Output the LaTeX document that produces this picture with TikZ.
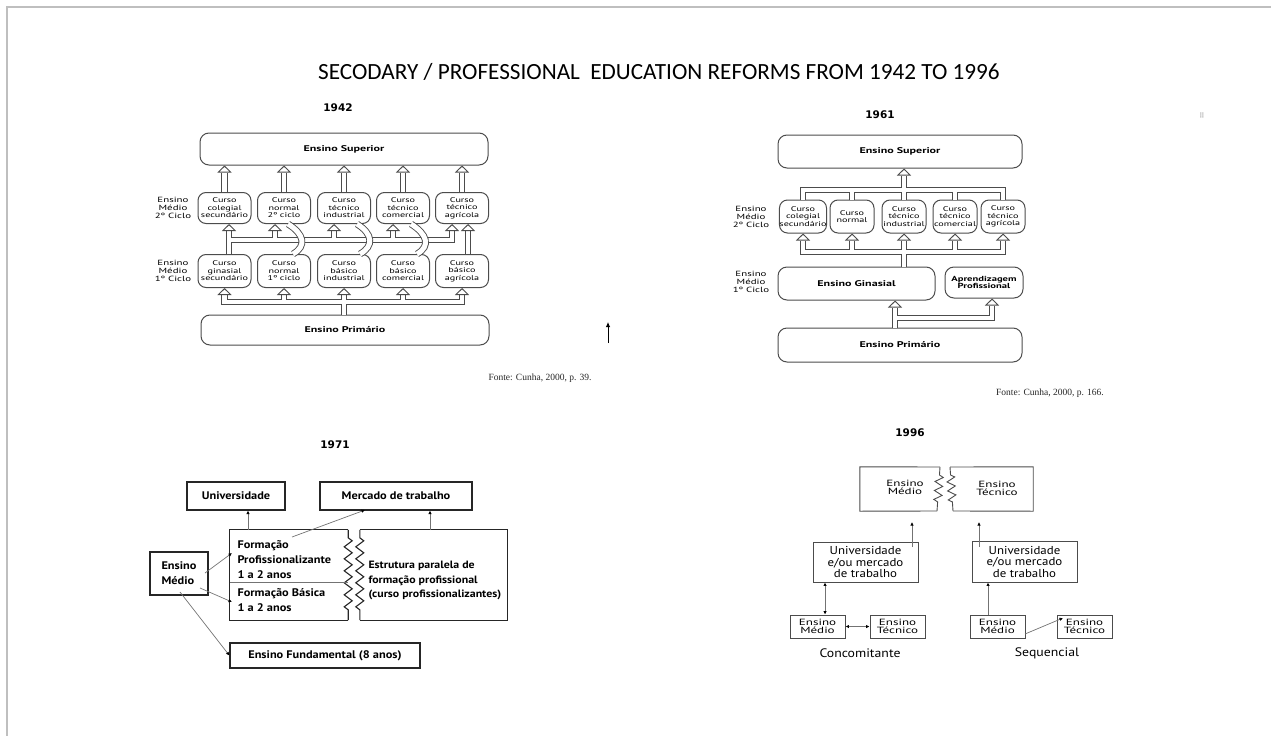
\documentclass[tikz,border=0pt]{standalone}
\usepackage{fontspec}
\setmainfont{PT Sans}
\newfontfamily\titlefont{Carlito}
\newfontfamily\yearfont{DejaVu Sans}
\newfontfamily\srcfont{Liberation Serif}
\newfontfamily\widefont[FakeStretch=1.45]{PT Sans}
\newfontfamily\midfont[FakeStretch=1.12]{PT Sans}
\usepackage{tikz}
\usetikzlibrary{arrows.meta,positioning,calc,decorations.pathmorphing}

\begin{document}
\begin{tikzpicture}[
  x=1pt, y=-1pt,
  oldbox/.style ={draw=black!70, line width=1pt, rounded corners=9pt,
                  minimum width=288pt, minimum height=32pt, inner sep=0pt,
                  font=\widefont\bfseries\fontsize{8.3}{8.8}\selectfont},
  curso/.style  ={draw=black!70, line width=1pt, rounded corners=8pt,
                  minimum width=53pt, minimum height=31pt, inner sep=0pt,
                  align=center, font=\widefont\fontsize{7}{7.5}\selectfont},
  tier/.style   ={align=center, font=\widefont\fontsize{7.5}{8.3}\selectfont},
  hollow/.style ={draw=black!70, line width=0.9pt, double=white,
                  double distance=4.5pt, line join=miter},
  head/.style   ={draw=white, line width=0.9pt,
                  -{Triangle[color=black!70, fill=white, length=7pt, width=14pt]}},
  band/.style   ={draw=black!70, line width=0.9pt, double=white,
                  double distance=5pt},
  newbox/.style ={draw=black!85, line width=1.2pt, inner sep=0pt,
                  font=\midfont\bfseries\fontsize{11}{15}\selectfont},
  txt71/.style  ={align=left, font=\midfont\bfseries\fontsize{11}{15}\selectfont},
  thin/.style   ={draw=black!55, line width=0.7pt,
                  -{Latex[length=3.5pt, width=3.5pt, black]}},
  jag/.style    ={draw=black!85, line width=1.1pt, decorate,
                  decoration={zigzag, segment length=12pt, amplitude=4pt,
                              pre length=8pt, post length=6pt}},
  box96/.style  ={draw=black!70, line width=0.9pt, inner sep=0pt, align=center,
                  font=\midfont\fontsize{11.5}{11.5}\selectfont},
  small96/.style={box96, minimum width=55pt, minimum height=23pt,
                  font=\widefont\fontsize{9}{8.2}\selectfont},
  cap96/.style  ={font=\midfont\fontsize{12.3}{14}\selectfont},
  year/.style   ={font=\yearfont\bfseries\fontsize{10.5}{12}\selectfont},
  fonte/.style  ={font=\srcfont\fontsize{9.5}{11}\selectfont, text=black!85},
]
\useasboundingbox (0,0) rectangle (1271,736);

% ---------------- page frame and title --------------------------------------
\coordinate (fTL) at (7,7);
\coordinate (fTR) at (1271,7);
\coordinate (fBL) at (7,736);
\draw[black!25, line width=1.2pt] (fTR) -- (fTL) -- (fBL);
\node[text=black!45, font=\yearfont\fontsize{7}{7}\selectfont] (dots) at (1202,116) {⠿};

\node[font=\titlefont\fontsize{23.2}{26}\selectfont] (title) at (659,72)
  {SECODARY / PROFESSIONAL\ \ EDUCATION REFORMS FROM 1942 TO 1996};

% ---------------- 1942 -----------------------------------------------------
\node[year] (y42) at (338,108) {1942};
\node[oldbox] (sup42) at (344,149) {Ensino Superior};

\node[curso] (t1) at (224.5,208) {Curso\\colegial\\secundário};
\node[curso] (t2) at (284,208)   {Curso\\normal\\2º ciclo};
\node[curso] (t3) at (344,208)   {Curso\\técnico\\industrial};
\node[curso] (t4) at (403,208)   {Curso\\técnico\\comercial};
\node[curso] (t5) at (462,208)   {Curso\\técnico\\agrícola};

\node[curso, minimum height=33pt] (b1) at (224.5,271) {Curso\\ginasial\\secundário};
\node[curso, minimum height=33pt] (b2) at (284,271)   {Curso\\normal\\1º ciclo};
\node[curso, minimum height=33pt] (b3) at (344,271)   {Curso\\básico\\industrial};
\node[curso, minimum height=33pt] (b4) at (403,271)   {Curso\\básico\\comercial};
\node[curso, minimum height=33pt] (b5) at (462,271)   {Curso\\básico\\agrícola};

\node[oldbox, minimum height=30pt] (pri42) at (345,330) {Ensino Primário};

\node[tier] (ciclo2) at (173,208) {Ensino\\Médio\\2º Ciclo};
\node[tier] (ciclo1) at (173,271) {Ensino\\Médio\\1º Ciclo};

% into Ensino Superior
\foreach \c in {t1,t2,t3,t4,t5} {
  \draw[hollow] (\c.north) -- ($(\c.north |- sup42.south)+(0,7)$);
  \draw[head] ($(\c.north |- sup42.south)+(0,9)$) -- (\c.north |- sup42.south);
}

% bus between the two cycles
\coordinate (m1) at (229,240);
\coordinate (m2) at (275,240);
\coordinate (m3) at (334,240);
\coordinate (m4) at (393,240);
\coordinate (m5) at (452,240);
\draw[hollow] (b1.north -| m1) -- ($(t1.south -| m1)+(0,7)$)
  (m1) -- (m5) -- ($(t5.south -| m5)+(0,7)$)
  (m2) -- ($(t2.south -| m2)+(0,7)$)
  (m3) -- ($(t3.south -| m3)+(0,7)$)
  (m4) -- ($(t4.south -| m4)+(0,7)$);
\foreach \m/\c in {m1/t1,m2/t2,m3/t3,m4/t4,m5/t5}
  \draw[head] ($(\c.south -| \m)+(0,9)$) -- (\c.south -| \m);
\draw[hollow] ($(b5.north)+(6,0)$) -- ($(t5.south)+(6,7)$);
\draw[head] ($(t5.south)+(6,9)$) -- ($(t5.south)+(6,0)$);

% from 1st cycle to 2nd cycle of the same branch
\draw[band] ($(b2.north)+(9,0)$)  .. controls +(14,-8) and +(16,10) .. ($(t2.south)+(4,0)$);
\draw[band] ($(b3.north)+(16,0)$) .. controls +(14,-8) and +(16,10) .. ($(t3.south)+(13,0)$);
\draw[band] ($(b4.north)+(14,0)$) .. controls +(14,-8) and +(16,10) .. ($(t4.south)+(8,0)$);

% bus above Ensino Primário
\coordinate (p1) at (224.5,302);
\coordinate (p5) at (462,302);
\draw[hollow] ($(b1.south)+(0,7)$) -- (p1) -- (p5) -- ($(b5.south)+(0,7)$)
  (p1 -| b2) -- ($(b2.south)+(0,7)$)
  (p1 -| b4) -- ($(b4.south)+(0,7)$)
  (pri42.north -| b3) -- ($(b3.south)+(0,7)$);
\foreach \c in {b1,b2,b3,b4,b5}
  \draw[head] ($(\c.south)+(0,9)$) -- (\c.south);

\node[fonte] (src42) at (540,378) {Fonte: Cunha, 2000, p. 39.};
\coordinate (upA) at (608,343);
\coordinate (upB) at (608,322);
\draw[-{Latex[length=5pt, width=4.5pt]}, line width=0.9pt] (upA) -- (upB);

% ---------------- 1961 -----------------------------------------------------
\node[year] (y61) at (880,115) {1961};
\node[oldbox, minimum width=244pt, minimum height=33pt] (sup61) at (900,151.5) {Ensino Superior};

\node[curso, minimum width=47pt, minimum height=33pt] (c1) at (803,216.5) {Curso\\colegial\\secundário};
\node[curso, minimum width=44pt, minimum height=33pt] (c2) at (852,216.5) {Curso\\normal};
\node[curso, minimum width=44pt, minimum height=33pt] (c3) at (904,216.5) {Curso\\técnico\\industrial};
\node[curso, minimum width=44pt, minimum height=33pt] (c4) at (955,216.5) {Curso\\técnico\\comercial};
\node[curso, minimum width=44pt, minimum height=33pt] (c5) at (1003,216.5) {Curso\\técnico\\agrícola};

\node[oldbox, minimum width=157pt, minimum height=33pt] (gin61) at (856.5,283.5) {Ensino Ginasial};
\node[oldbox, minimum width=78pt, minimum height=31pt, align=center,
      font=\widefont\bfseries\fontsize{7.3}{7.9}\selectfont] (apr61) at (984,282.5)
  {Aprendizagem\\Profissional};
\node[oldbox, minimum width=244pt, minimum height=34pt] (pri61) at (900,345) {Ensino Primário};

\node[tier] (ciclo2b) at (751,217) {Ensino\\Médio\\2º Ciclo};
\node[tier] (ciclo1b) at (751,282) {Ensino\\Médio\\1º Ciclo};

% from the courses up to Ensino Superior
\coordinate (ub) at (904,190);
\draw[hollow] (c1.north) -- (c1.north |- ub) -- (c5.north |- ub) -- (c5.north)
  (c2.north) -- (c2.north |- ub)
  (c3.north) -- ($(c3.north |- sup61.south)+(0,7)$)
  (c4.north) -- (c4.north |- ub);
\draw[head] ($(c3.north |- sup61.south)+(0,9)$) -- (c3.north |- sup61.south);

% from Ensino Ginasial into the courses
\coordinate (lb) at (904,252);
\draw[hollow] ($(c1.south)+(0,7)$) -- (c1.south |- lb) -- (c5.south |- lb) -- ($(c5.south)+(0,7)$)
  (c2.south |- lb) -- ($(c2.south)+(0,7)$)
  (c4.south |- lb) -- ($(c4.south)+(0,7)$)
  (gin61.north -| c3) -- ($(c3.south)+(0,7)$);
\foreach \c in {c1,c2,c3,c4,c5}
  \draw[head] ($(\c.south)+(0,9)$) -- (\c.south);

% from Ensino Primário
\coordinate (tr) at (895,318);
\coordinate (tr2) at (992,318);
\draw[hollow] (pri61.north -| tr) -- ($(gin61.south -| tr)+(0,7)$)
  (tr) -- (tr2) -- ($(apr61.south -| tr2)+(0,7)$);
\draw[head] ($(gin61.south -| tr)+(0,9)$) -- (gin61.south -| tr);
\draw[head] ($(apr61.south -| tr2)+(0,9)$) -- (apr61.south -| tr2);

\node[fonte] (src61) at (1050,393) {Fonte: Cunha, 2000, p. 166.};

% ---------------- 1971 -----------------------------------------------------
\node[year] (y71) at (335,445) {1971};
\node[newbox, minimum width=98pt, minimum height=28pt] (univ) at (236,496) {Universidade};
\node[newbox, minimum width=152pt, minimum height=28pt] (merc) at (396,496) {Mercado de trabalho};
\node[newbox, minimum width=58pt, minimum height=43pt, align=left] (medio) at (179,573.5) {Ensino\\Médio};
\node[newbox, minimum width=190pt, minimum height=25pt] (fund) at (325,655.5) {Ensino Fundamental (8 anos)};

\node[minimum width=118pt, minimum height=90pt] (form) at (289,575) {};
\draw[black!85, line width=1.2pt] (form.north east) -- (form.north west)
  -- (form.south west) -- (form.south east);
\draw[jag] (form.north east) -- (form.south east);
\draw[black!55, line width=0.7pt] ($(form.west)+(0,7)$) -- ($(form.east)+(0,7)$);
\node[txt71, anchor=west] (prof) at (234,560) {Formação\\Profissionalizante\\1 a 2 anos};
\node[txt71, anchor=west] (bas)  at (234,600.5) {Formação Básica\\1 a 2 anos};

\node[minimum width=147pt, minimum height=90pt] (estr) at (433.5,575) {};
\draw[black!85, line width=1.2pt] (estr.north west) -- (estr.north east)
  -- (estr.south east) -- (estr.south west);
\draw[jag] (estr.north west) -- (estr.south west);
\node[txt71, anchor=west, font=\midfont\bfseries\fontsize{10.6}{14.5}\selectfont] (estrT) at (365,580.5)
  {Estrutura paralela de\\formação profissional\\(curso profissionalizantes)};

\coordinate (fu) at (248,530);
\coordinate (fm) at (292,537);
\coordinate (mk) at (365,510);
\coordinate (em) at (430,530);
\draw[thin] (fu) -- (fu |- univ.south);
\draw[thin] (fm) -- (mk);
\draw[thin] (em) -- (em |- merc.south);
\coordinate (mo1) at (205,573);
\coordinate (mo2) at (200,588);
\coordinate (mo3) at (180,592);
\draw[thin] (mo1) -- (232,553);
\draw[thin] (mo2) -- (232,602);
\draw[thin] (mo3) -- (fund.west);

% ---------------- 1996 -----------------------------------------------------
\node[year] (y96) at (910,433) {1996};
\node[minimum width=173pt, minimum height=44pt] (top96) at (946.5,489) {};
\coordinate (zA) at (940,467);
\coordinate (zB) at (937,511);
\coordinate (zC) at (950,467);
\coordinate (zD) at (953,511);
\draw[black!70, line width=0.9pt] (zA) -- (top96.north west) -- (top96.south west) -- (zB);
\draw[black!70, line width=0.9pt] (zC) -- (top96.north east) -- (top96.south east) -- (zD);
\draw[jag, draw=black!70, line width=0.9pt, decoration={zigzag, segment length=9pt, amplitude=4pt}] (zA) -- (zB);
\draw[jag, draw=black!70, line width=0.9pt, decoration={zigzag, segment length=9pt, amplitude=4pt}] (zC) -- (zD);
\node[align=center, font=\widefont\fontsize{9}{8.2}\selectfont] (tMed) at (905,487) {Ensino\\Médio};
\node[align=center, font=\widefont\fontsize{9}{8.2}\selectfont] (tTec) at (997,488) {Ensino\\Técnico};

\node[box96, minimum width=105pt, minimum height=40pt] (univL) at (865.5,562) {Universidade\\e/ou mercado\\de trabalho};
\node[box96, minimum width=105pt, minimum height=41pt] (univR) at (1024.5,561.5) {Universidade\\e/ou mercado\\de trabalho};
\coordinate (uL) at (912,547);
\coordinate (uR) at (979,547);
\draw[thin] (uL) -- (912,522);
\draw[thin] (uR) -- (979,522);

\node[small96] (medL) at (817.5,626.5) {Ensino\\Médio};
\node[small96] (tecL) at (897.5,626.5) {Ensino\\Técnico};
\node[small96] (medR) at (997.5,626.5) {Ensino\\Médio};
\node[small96] (tecR) at (1084.5,626.5) {Ensino\\Técnico};
\node[cap96] (conc) at (860,653) {Concomitante};
\node[cap96] (seq) at (1047,653) {Sequencial};

\coordinate (vL) at (825,0);
\coordinate (vR) at (988,0);
\draw[thin, {Latex[length=3.5pt, width=3.5pt, black]}-{Latex[length=3.5pt, width=3.5pt, black]}]
  (univL.south -| vL) -- (medL.north -| vL);
\draw[thin, {Latex[length=3.5pt, width=3.5pt, black]}-{Latex[length=3.5pt, width=3.5pt, black]}]
  (medL.east) -- (tecL.west);
\draw[thin] (medR.north -| vR) -- (univR.south -| vR);
\coordinate (sq) at (1025,634);
\draw[thin] (sq) -- (1063,618);

\end{tikzpicture}
\end{document}
